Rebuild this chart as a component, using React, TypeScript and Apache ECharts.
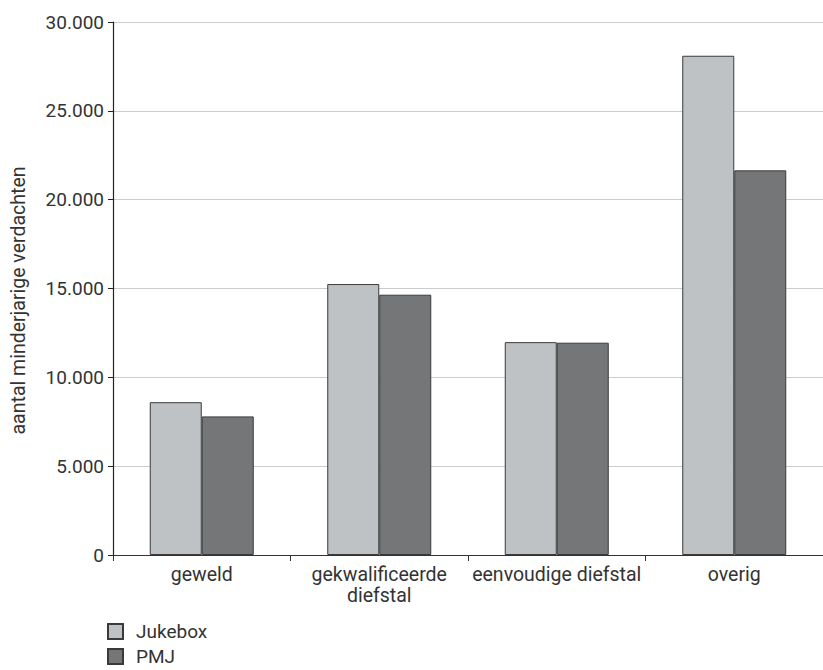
import React, { useEffect, useRef } from "react";
import * as echarts from "echarts";

const categories = ["geweld", "gekwalificeerde\ndiefstal", "eenvoudige diefstal", "overig"];
const jukebox = [8600, 15250, 11980, 28100];
const pmj = [7800, 14650, 11950, 21650];
const seriesNames = ["Jukebox", "PMJ"];

export default function App() {
  const ref = useRef<HTMLDivElement>(null);
  useEffect(() => {
    const chart = echarts.init(ref.current!, null, { renderer: "svg" });
    const font = "Roboto, 'Liberation Sans', sans-serif";
    const legendBase = {
      left: 107,
      padding: 0,
      itemWidth: 15,
      itemHeight: 15,
      icon: "rect",
      textStyle: { fontSize: 19, color: "#333", fontFamily: font, padding: [0, 0, 0, 8] },
    };
    chart.setOption({
      animation: false,
      textStyle: { fontFamily: font },
      grid: { left: 107, top: 22, width: 724, height: 533, containLabel: false },
      legend: [
        { ...legendBase, top: 622, data: [seriesNames[0]] },
        { ...legendBase, top: 647, data: [seriesNames[1]] },
      ],
      xAxis: {
        type: "category",
        data: categories,
        axisLine: { lineStyle: { color: "#333", width: 1 } },
        axisTick: { show: true, length: 6, lineStyle: { color: "#333" } },
        axisLabel: { fontSize: 19.5, color: "#333", lineHeight: 21, margin: 9, interval: 0, fontFamily: font },
      },
      yAxis: {
        type: "value",
        min: 0,
        max: 30000,
        interval: 5000,
        name: "aantal minderjarige verdachten",
        nameLocation: "middle",
        nameGap: 85,
        nameTextStyle: { fontSize: 19.5, color: "#333", fontFamily: font, padding: [0, 24, 0, 0] },
        axisLine: { show: true, lineStyle: { color: "#222", width: 1.2 } },
        axisTick: { show: true, length: 5, lineStyle: { color: "#222" } },
        axisLabel: {
          fontSize: 19,
          color: "#333",
          margin: 9,
          fontFamily: font,
          formatter: (v: number) => v.toString().replace(/\B(?=(\d{3})+(?!\d))/g, "."),
        },
        splitLine: { lineStyle: { color: "#cccccc", width: 1 } },
      },
      series: [
        {
          name: seriesNames[0],
          type: "bar",
          data: jukebox,
          barWidth: 52,
          barGap: "0%",
          itemStyle: { color: "#bfc2c4", borderColor: "#3a3a3a", borderWidth: 1 },
        },
        {
          name: seriesNames[1],
          type: "bar",
          data: pmj,
          barWidth: 52,
          barGap: "0%",
          itemStyle: { color: "#757678", borderColor: "#3a3a3a", borderWidth: 1 },
        },
      ],
    });
    return () => chart.dispose();
  }, []);
  return (
    <div
      ref={ref}
      style={{ position: "absolute", left: 0, top: 0, width: 823, height: 670, background: "#fff" }}
    />
  );
}
